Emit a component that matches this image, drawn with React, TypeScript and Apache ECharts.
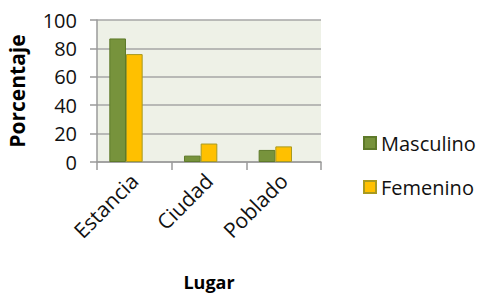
import React, { useEffect, useRef } from "react";
import * as echarts from "echarts";

const categories = ["Estancia", "Ciudad", "Poblado"];
const masculino = [87, 4.5, 8.5];
const femenino = [76, 13, 11];
const emptySeries: (number | null)[] = [null, null, null];
const seriesNames = ["Masculino", "Femenino"];

const FONT = "Open Sans";

export default function App() {
  const ref = useRef<HTMLDivElement>(null);
  useEffect(() => {
    if (!ref.current) return;
    const chart = echarts.init(ref.current, undefined, { renderer: "svg" });
    chart.setOption({
      animation: false,
      textStyle: { fontFamily: FONT, color: "#000" },
      grid: {
        left: 97,
        right: 161,
        top: 20,
        bottom: 132,
        show: true,
        backgroundColor: "#EEF1E7",
        borderWidth: 0,
      },
      legend: {
        orient: "vertical",
        left: 358,
        top: 127,
        itemWidth: 12,
        itemHeight: 12,
        itemGap: 22,
        icon: "rect",
        textStyle: { fontFamily: FONT, fontSize: 20, color: "#111", lineHeight: 22 },
        data: seriesNames,
      },
      xAxis: {
        type: "category",
        data: categories,
        name: "Lugar",
        nameLocation: "middle",
        nameGap: 111,
        nameTextStyle: { fontFamily: FONT, fontSize: 18, fontWeight: "bold", color: "#000" },
        axisLine: { lineStyle: { color: "#9A9A9A", width: 1.5 } },
        axisTick: { show: true, length: 8, lineStyle: { color: "#9A9A9A", width: 1.5 } },
        axisLabel: { rotate: 45, fontSize: 21, color: "#111", margin: 15, fontFamily: FONT },
      },
      yAxis: {
        type: "value",
        min: 0,
        max: 100,
        interval: 20,
        name: "Porcentaje",
        nameLocation: "middle",
        nameGap: 70,
        nameRotate: 90,
        nameTextStyle: { fontFamily: FONT, fontSize: 21, fontWeight: "bold", color: "#000" },
        axisLine: { show: true, lineStyle: { color: "#9A9A9A", width: 1.5 } },
        axisTick: { show: true, length: 7, lineStyle: { color: "#9A9A9A", width: 1.5 } },
        axisLabel: { fontSize: 20, color: "#111", margin: 20, fontFamily: FONT },
        splitLine: { show: true, lineStyle: { color: "#A6A6A6", width: 1.5 } },
      },
      series: [
        {
          name: seriesNames[0],
          type: "bar",
          data: masculino,
          barGap: "0%",
          barCategoryGap: "33%",
          itemStyle: { color: "#77933C", borderColor: "#5E7A2A", borderWidth: 1 },
        },
        {
          name: seriesNames[1],
          type: "bar",
          data: femenino,
          itemStyle: { color: "#FFC000", borderColor: "#A89A20", borderWidth: 1 },
        },
        {
          name: "blank",
          type: "bar",
          data: emptySeries,
          itemStyle: { color: "transparent" },
        },
      ],
    });
    return () => chart.dispose();
  }, []);
  return <div ref={ref} style={{ width: 482, height: 294, position: "absolute", left: 0, top: 0, background: "#fff" }} />;
}
